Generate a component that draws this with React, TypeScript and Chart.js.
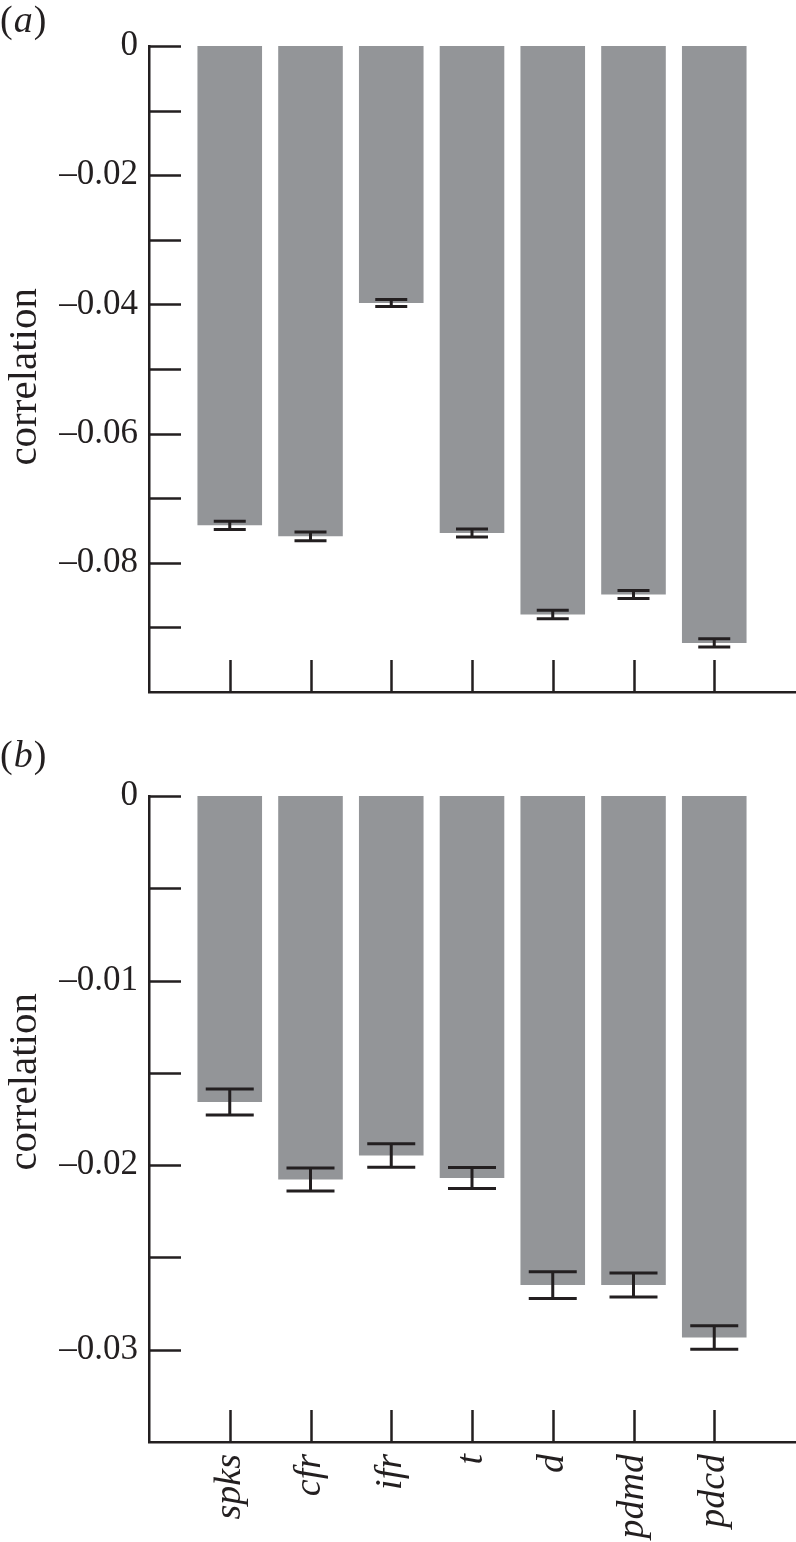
import React, { useEffect, useRef } from 'react';
import { Chart, registerables } from 'chart.js';

Chart.register(...registerables);

// ---- data ----
const categories = ['spks', 'cfr', 'ifr', 't', 'd', 'pdmd', 'pdcd'];
const valuesA = [-0.0742, -0.0759, -0.0398, -0.0754, -0.088, -0.0849, -0.0924];
const errorsA = [0.00064, 0.00067, 0.00054, 0.00062, 0.00067, 0.00062, 0.00065];
const valuesB = [-0.01658, -0.02078, -0.01948, -0.0207, -0.0265, -0.02649, -0.02934];
const errorsB = [0.0007, 0.00062, 0.00064, 0.00057, 0.00072, 0.00065, 0.00064];
const yMinA = -0.1;
const yStepA = 0.01;
const labelEveryA = 2;
const yMinB = -0.035;
const yStepB = 0.005;
const labelEveryB = 2;

const INK = '#231f20';
const BAR = '#939598';
const SERIF = '"Liberation Serif", "Times New Roman", Times, serif';

type PanelCfg = {
  top: number;
  height: number;
  padTop: number;
  bottomH: number;
  values: number[];
  errors: number[];
  yMin: number;
  step: number;
  labelEvery: number;
  showX: boolean;
  panel: string;
  panelBase: number;
  titleEndY: number;
  capHalf: number;
};

function Panel({ cfg }: { cfg: PanelCfg }) {
  const ref = useRef<HTMLCanvasElement | null>(null);
  useEffect(() => {
    if (!ref.current) return;
    const n = Math.round(-cfg.yMin / cfg.step);

    const tickPlugin = {
      id: 'inTicks',
      afterDraw(chart: any) {
        const { ctx, chartArea, scales } = chart;
        ctx.save();
        ctx.strokeStyle = INK;
        ctx.lineWidth = 2.5;
        ctx.beginPath();
        scales.y.ticks.forEach((t: any) => {
          const y = Math.round(scales.y.getPixelForValue(t.value)) + 0.5;
          ctx.moveTo(chartArea.left, y);
          ctx.lineTo(chartArea.left + 32, y);
        });
        scales.x.ticks.forEach((t: any) => {
          const x = Math.round(scales.x.getPixelForValue(t.value)) + 0.5;
          ctx.moveTo(x, chartArea.bottom);
          ctx.lineTo(x, chartArea.bottom - 32);
        });
        ctx.stroke();
        ctx.restore();
      },
    };

    const errPlugin = {
      id: 'errBars',
      afterDatasetsDraw(chart: any) {
        const { ctx, scales } = chart;
        ctx.save();
        ctx.strokeStyle = INK;
        ctx.lineWidth = 3;
        ctx.beginPath();
        cfg.values.forEach((v, i) => {
          const x = scales.x.getPixelForValue(i + 1);
          const y1 = scales.y.getPixelForValue(v + cfg.errors[i]);
          const y2 = scales.y.getPixelForValue(v - cfg.errors[i]);
          ctx.moveTo(x, y1);
          ctx.lineTo(x, y2);
          ctx.moveTo(x - cfg.capHalf, y1);
          ctx.lineTo(x + cfg.capHalf, y1);
          ctx.moveTo(x - cfg.capHalf, y2);
          ctx.lineTo(x + cfg.capHalf, y2);
        });
        ctx.stroke();
        ctx.restore();
      },
    };

    const textPlugin = {
      id: 'texts',
      afterDraw(chart: any) {
        const { ctx } = chart;
        ctx.save();
        ctx.fillStyle = INK;
        ctx.textBaseline = 'alphabetic';
        ctx.textAlign = 'left';
        const base = cfg.panelBase;
        ctx.font = `38px ${SERIF}`;
        let x = 0;
        ctx.fillText('(', x, base);
        x += ctx.measureText('(').width;
        ctx.font = `italic 38px ${SERIF}`;
        ctx.fillText(cfg.panel, x + 1, base);
        x += ctx.measureText(cfg.panel).width + 2;
        ctx.font = `38px ${SERIF}`;
        ctx.fillText(')', x, base);
        ctx.font = `41px ${SERIF}`;
        ctx.translate(36, cfg.titleEndY);
        ctx.rotate(-Math.PI / 2);
        ctx.textAlign = 'right';
        ctx.fillText('correlation', 0, 0);
        ctx.restore();
      },
    };

    const chart = new Chart(ref.current, {
      type: 'bar',
      data: {
        datasets: [
          {
            data: cfg.values.map((v, i) => ({ x: i + 1, y: v })),
            backgroundColor: BAR,
            borderWidth: 0,
            categoryPercentage: 1,
            barPercentage: 0.8,
          } as any,
        ],
      },
      options: {
        animation: false,
        responsive: false,
        layout: { padding: { top: cfg.padTop, right: 1, left: 0, bottom: 0 } },
        plugins: { legend: { display: false }, tooltip: { enabled: false } },
        scales: {
          x: {
            type: 'linear',
            offset: false,
            min: 0,
            max: categories.length + 1,
            grid: { display: false, drawTicks: false, offset: false },
            border: { display: true, color: INK, width: 2.5 },
            afterBuildTicks: (s: any) => {
              s.ticks = categories.map((_, i) => ({ value: i + 1 }));
            },
            afterFit: (s: any) => {
              s.height = cfg.bottomH;
            },
            ticks: {
              display: cfg.showX,
              autoSkip: false,
              maxRotation: 90,
              minRotation: 90,
              padding: 12,
              color: INK,
              font: { family: SERIF, size: 38, style: 'italic' },
              callback: (v: any) => categories[Math.round(Number(v)) - 1] ?? '',
            },
          },
          y: {
            type: 'linear',
            min: cfg.yMin,
            max: 0,
            grid: { display: false, drawTicks: false },
            border: { display: true, color: INK, width: 2.5 },
            afterBuildTicks: (s: any) => {
              const t = [];
              for (let k = 0; k < n; k++) t.push({ value: -k * cfg.step });
              s.ticks = t;
            },
            afterFit: (s: any) => {
              s.width = 149;
            },
            ticks: {
              padding: 11,
              color: INK,
              font: { family: SERIF, size: 35 },
              callback: (v: any) => {
                const k = Math.round(-Number(v) / cfg.step);
                if (k % cfg.labelEvery !== 0) return '';
                if (k === 0) return '0';
                return '\u2013' + (k * cfg.step).toFixed(2);
              },
            },
          },
        },
      } as any,
      plugins: [tickPlugin, errPlugin, textPlugin],
    });
    return () => chart.destroy();
  }, [cfg]);

  return (
    <canvas
      ref={ref}
      width={796}
      height={cfg.height}
      style={{ position: 'absolute', left: 0, top: cfg.top, width: 796, height: cfg.height }}
    />
  );
}

const panelA: PanelCfg = {
  top: 0,
  height: 724,
  padTop: 46,
  bottomH: 32,
  values: valuesA,
  errors: errorsA,
  yMin: yMinA,
  step: yStepA,
  labelEvery: labelEveryA,
  showX: false,
  panel: 'a',
  panelBase: 32,
  titleEndY: 288,
  capHalf: 16,
};

const panelB: PanelCfg = {
  top: 700,
  height: 842,
  padTop: 96,
  bottomH: 100,
  values: valuesB,
  errors: errorsB,
  yMin: yMinB,
  step: yStepB,
  labelEvery: labelEveryB,
  showX: true,
  panel: 'b',
  panelBase: 67,
  titleEndY: 293,
  capHalf: 24,
};

export default function App() {
  return (
    <div style={{ position: 'absolute', left: 0, top: 0, width: 796, height: 1542, background: '#fff' }}>
      <Panel cfg={panelA} />
      <Panel cfg={panelB} />
    </div>
  );
}
